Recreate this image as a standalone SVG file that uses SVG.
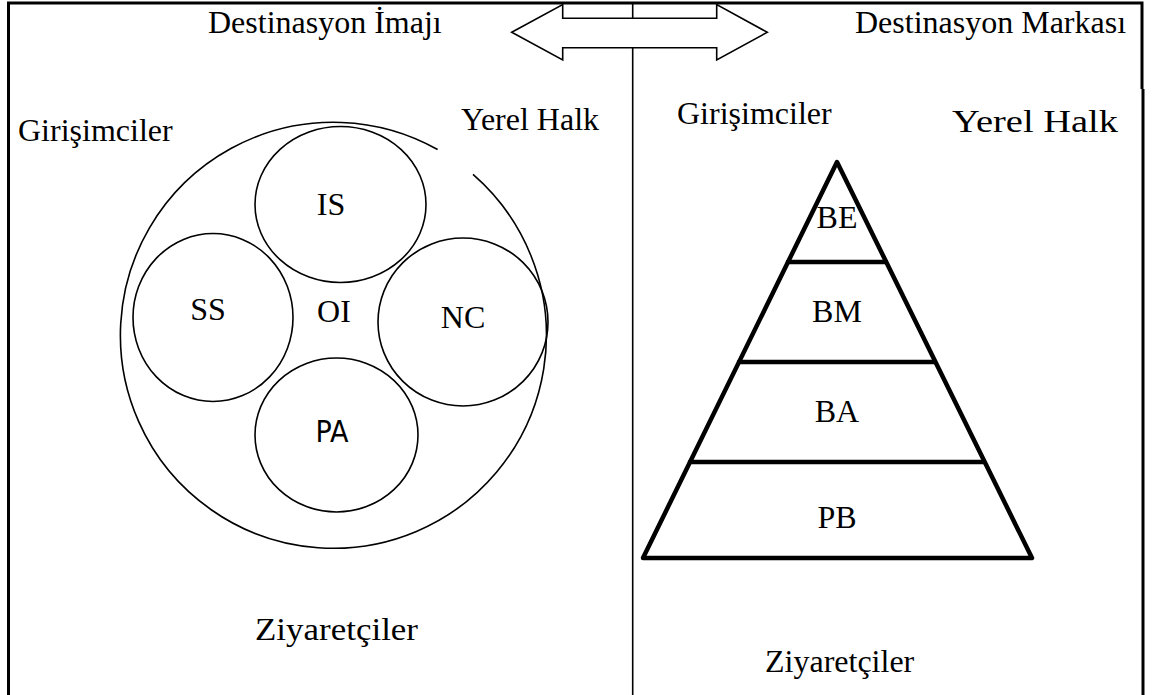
<svg xmlns="http://www.w3.org/2000/svg" width="1152" height="695" viewBox="0 0 1152 695">
  <style>
    .lbl { font-family: "Liberation Serif", "Times New Roman", serif; font-size: 32px; fill: #000; }
    .mid { text-anchor: middle; }
    .thin { fill: none; stroke: #000; stroke-width: 1.6; }
    .frame { fill: none; stroke: #000; stroke-width: 3; }
    .pyr { fill: none; stroke: #000; stroke-width: 4.5; stroke-linejoin: round; stroke-linecap: round; }
    .sans { font-family: "DejaVu Sans Condensed", "Liberation Sans Narrow", "DejaVu Sans", sans-serif; font-size: 30px; fill: #000; }
  </style>
  <rect width="1152" height="695" fill="#fff"/>

  <!-- outer frame and centre divider -->
  <g id="frame">
    <path class="frame" d="M 8.5 695 L 8.5 3 L 1142 3 L 1142 89"/>
    <line class="frame" x1="1143" y1="89" x2="1143" y2="695"/>
    <line x1="632.7" y1="3" x2="632.7" y2="695" stroke="#000" stroke-width="1.6"/>
  </g>

  <!-- double-headed arrow between the two halves -->
  <g id="connectors">
    <polygon points="511.7,32.3 562.7,4.5 562.7,18.3 716.7,18.3 716.7,4.5 767.3,32.3 716.7,60 716.7,47.7 562.7,47.7 562.7,60" fill="#fff" stroke="#000" stroke-width="1.6" stroke-linejoin="miter"/>
  </g>

  <!-- headings -->
  <g id="title-image"><text class="lbl" x="208" y="33">Destinasyon İmajı</text></g>
  <g id="title-brand"><text class="lbl" x="855" y="33">Destinasyon Markası</text></g>

  <!-- left half: image model -->
  <g id="left-entrepreneurs"><text class="lbl" x="18" y="141">Girişimciler</text></g>
  <g id="left-locals"><text class="lbl" x="461" y="130">Yerel Halk</text></g>
  <g id="left-visitors"><text class="lbl" x="255" y="640" textLength="163" lengthAdjust="spacingAndGlyphs">Ziyaretçiler</text></g>

  <g id="outer-circle">
    <path class="thin" d="M 473 174.4 A 213 213 0 1 1 437.6 149.5"/>
    <text class="lbl mid" x="334" y="322">OI</text>
  </g>
  <g id="node-IS">
    <ellipse class="thin" cx="340.5" cy="204.5" rx="85.5" ry="78"/>
    <text class="lbl mid" x="331" y="215">IS</text>
  </g>
  <g id="node-SS">
    <ellipse class="thin" cx="213" cy="317.5" rx="80" ry="84"/>
    <text class="lbl mid" x="208" y="320">SS</text>
  </g>
  <g id="node-NC">
    <ellipse class="thin" cx="463" cy="322" rx="85" ry="84"/>
    <text class="lbl mid" x="463" y="328">NC</text>
  </g>
  <g id="node-PA">
    <ellipse class="thin" cx="336.5" cy="435" rx="81.5" ry="77"/>
    <text class="sans mid" x="332" y="442">PA</text>
  </g>

  <!-- right half: brand pyramid -->
  <g id="right-entrepreneurs"><text class="lbl" x="677" y="124">Girişimciler</text></g>
  <g id="right-locals"><text class="lbl" x="952" y="132" textLength="166" lengthAdjust="spacingAndGlyphs">Yerel Halk</text></g>
  <g id="right-visitors"><text class="lbl" x="765" y="672">Ziyaretçiler</text></g>

  <g id="pyramid">
    <polygon class="pyr" points="837,162 1032,558 643,558"/>
    <line class="pyr" x1="788" y1="262" x2="886" y2="262"/>
    <line class="pyr" x1="739" y1="362" x2="935" y2="362"/>
    <line class="pyr" x1="690" y1="462" x2="984" y2="462"/>
    <text class="lbl mid" x="837" y="228">BE</text>
    <text class="lbl mid" x="837" y="322">BM</text>
    <text class="lbl mid" x="837" y="422">BA</text>
    <text class="lbl mid" x="837" y="528">PB</text>
  </g>
</svg>
